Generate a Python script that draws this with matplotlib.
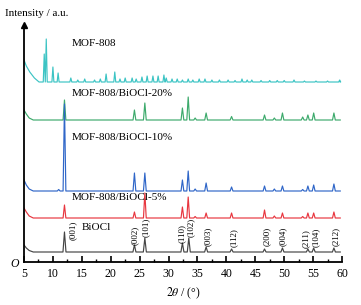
import numpy as np
import matplotlib
matplotlib.use("Agg")
import matplotlib.pyplot as plt
from matplotlib.ticker import MultipleLocator

plt.rcParams['font.family'] = ['Liberation Serif', 'DejaVu Serif']
plt.rcParams['mathtext.fontset'] = 'stix'

# ---------------- data ----------------
# each series: low-angle background (2theta, intensity), flat baseline, peaks (2theta, height)
bioc_bg_x = [5.0, 5.4, 5.9, 6.6]
bioc_bg_y = [17, 14, 11.5, 10]
bioc_base = 10
bioc_pos = [12.0, 24.1, 25.9, 32.4, 33.5, 36.5, 40.9, 46.6, 49.7, 54.1, 55.1, 58.6]
bioc_h = [20, 7, 14, 9, 14, 5, 3, 3, 4, 3, 4, 4]

b5_bg_x = [5.0, 5.4, 5.9, 6.6]
b5_bg_y = [54, 50, 46, 44]
b5_base = 44
b5_pos = [12.0, 24.1, 25.9, 32.4, 33.4, 34.6, 36.5, 40.9, 46.6, 48.3, 49.7, 53.2, 54.1, 55.1, 58.6]
b5_h = [13, 6, 25, 11, 21, 1.5, 5, 5, 8, 2, 5, 1.5, 5, 5, 6]

b10_bg_x = [5.0, 5.4, 5.9, 6.6]
b10_bg_y = [82, 77, 73, 71]
b10_base = 71
b10_pos = [11.0, 12.0, 24.1, 25.9, 32.4, 33.4, 34.6, 36.5, 40.9, 46.6, 48.3, 49.7, 53.2, 54.1, 55.1, 58.6]
b10_h = [1.5, 87, 18, 18, 11, 20, 2, 8, 4, 5, 2, 5, 1.5, 5, 6, 7]

b20_bg_x = [5.0, 5.4, 5.9, 6.6]
b20_bg_y = [152, 148, 144, 142]
b20_base = 142
b20_pos = [12.0, 24.1, 25.9, 32.4, 33.4, 34.6, 36.5, 40.9, 46.6, 48.3, 49.7, 53.2, 54.1, 55.1, 58.6]
b20_h = [20, 10, 17, 12, 23, 2, 7, 3.5, 5, 2, 7, 3, 5, 7, 7]

mof_bg_x = [5.0, 5.4, 6.0, 6.8, 7.6]
mof_bg_y = [202, 196, 190, 184, 180]
mof_base = 180
mof_pos = [8.5, 8.85, 10.0, 10.9, 13.1, 14.3, 15.5, 17.2, 18.2, 19.2, 20.7, 21.6, 22.5, 23.7,
           24.4, 25.4, 26.3, 27.3, 28.2, 29.2, 29.6, 30.6, 31.5, 32.4, 33.4, 34.2, 35.3, 36.3,
           37.5, 38.8, 40.3, 41.5, 42.7, 43.6, 44.4, 46.0, 47.5, 48.8, 50.0, 51.7, 53.5, 55.5,
           57.5, 59.6]
mof_h = [28, 43, 15, 9, 4, 2, 3, 2, 3, 8, 10, 3, 4, 4,
         3, 5, 6, 6, 6, 7, 4, 3, 3, 2, 3, 2, 3, 3,
         2, 2, 2, 1.5, 3, 2, 2, 1.5, 1.5, 1.5, 1.5, 2, 1, 1,
         1, 2]

hkl_labels = ['(001)', '(002)', '(101)', '(110)', '(102)', '(003)', '(112)',
              '(200)', '(004)', '(211)', '(104)', '(212)']
hkl_x = [13.5, 24.2, 26.1, 32.3, 33.9, 36.8, 41.3, 47.0, 49.8, 53.8, 55.5, 59.0]
hkl_y = [22, 17, 25, 19, 25, 16, 15, 16, 16, 14, 15, 16]

names = ['MOF-808', 'MOF-808/BiOCl-20%', 'MOF-808/BiOCl-10%', 'MOF-808/BiOCl-5%', 'BiOCl']
name_x = [13.3, 13.3, 13.3, 13.3, 14.9]
name_y = [219, 169, 124, 64, 35]


def trace(bg_x, bg_y, base, pos, h, w):
    xs = list(bg_x)
    ys = list(bg_y)
    for p, hh in zip(pos, h):
        xs += [p - w, p, p + w]
        ys += [base, base + hh, base]
    xs.append(59.7)
    ys.append(base)
    return np.array(xs), np.array(ys)


fig = plt.figure(figsize=(3.61, 3.05), dpi=100)
ax = fig.add_axes([24 / 361, 43 / 305, 318 / 361, 237 / 305])

series = [
    (mof_bg_x, mof_bg_y, mof_base, mof_pos, mof_h, 0.17, '#3cc4c4'),
    (b20_bg_x, b20_bg_y, b20_base, b20_pos, b20_h, 0.24, '#3daa6c'),
    (b10_bg_x, b10_bg_y, b10_base, b10_pos, b10_h, 0.24, '#2f66c8'),
    (b5_bg_x, b5_bg_y, b5_base, b5_pos, b5_h, 0.24, '#e8363f'),
    (bioc_bg_x, bioc_bg_y, bioc_base, bioc_pos, bioc_h, 0.26, '#454545'),
]
for bx, by, base, pos, h, w, c in series:
    x, y = trace(bx, by, base, pos, h, w)
    ax.plot(x, y, color=c, lw=0.85)

for n, nx, ny in zip(names, name_x, name_y):
    ax.text(nx, ny, n, fontsize=8, va='center', ha='left')

for lab, lx, ly in zip(hkl_labels, hkl_x, hkl_y):
    ax.text(lx, ly, lab, fontsize=6.5, rotation=90, ha='center', va='bottom')

ax.set_xlim(5, 60)
ax.set_ylim(0, 237)
ax.spines['top'].set_visible(False)
ax.spines['right'].set_visible(False)
ax.spines['left'].set_linewidth(1.3)
ax.spines['bottom'].set_linewidth(1.3)
ax.set_yticks([])
ax.xaxis.set_major_locator(MultipleLocator(5))
ax.xaxis.set_minor_locator(MultipleLocator(2.5))
ax.tick_params(axis='x', which='major', direction='in', length=4, width=1.2, labelsize=8.5, pad=4)
ax.tick_params(axis='x', which='minor', direction='in', length=2.5, width=1.0)
ax.plot([0], [1], marker='^', color='black', markersize=5, transform=ax.transAxes, clip_on=False)

fig.text(5 / 361, 1 - 13 / 305, 'Intensity / a.u.', fontsize=8, va='center', ha='left')
fig.text(15 / 361, 1 - 264 / 305, 'O', fontsize=8.5, style='italic', va='center', ha='center')
fig.text(183 / 361, 1 - 293 / 305, r'$\mathit{2\theta}$ / (°)', fontsize=8.5, va='center', ha='center')

fig.savefig('out.png', dpi=100)
